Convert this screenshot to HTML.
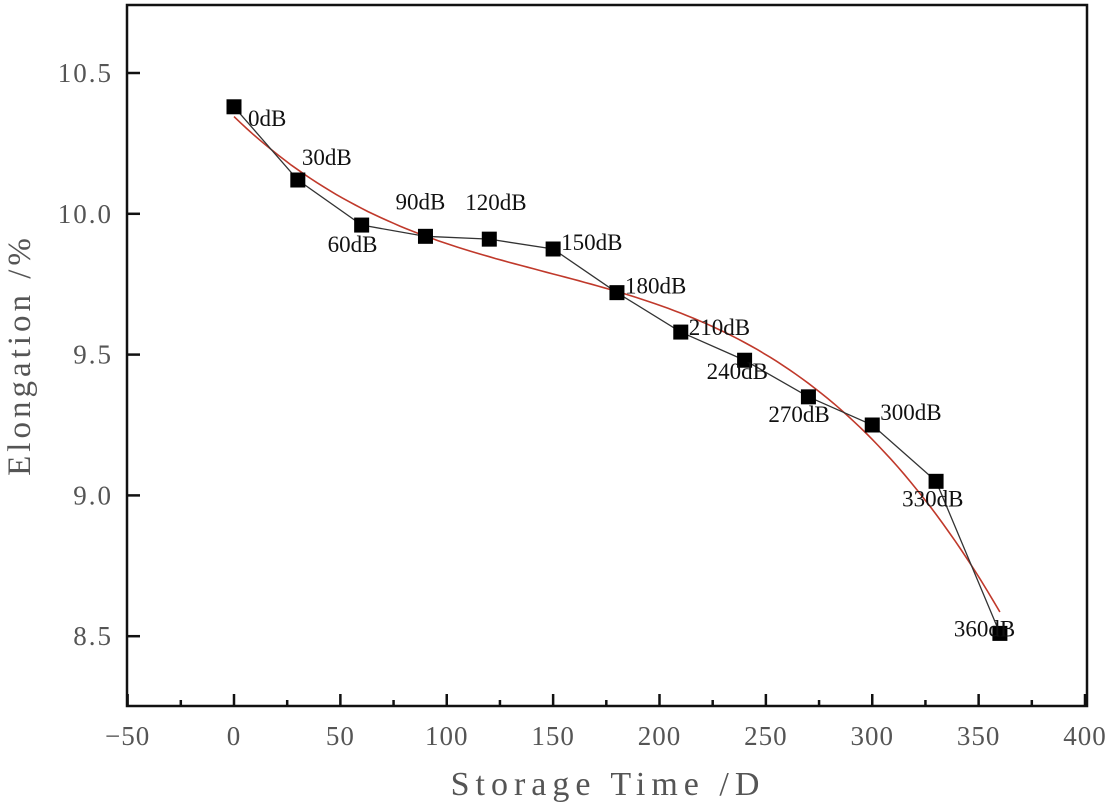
<!DOCTYPE html>
<html><head><meta charset="utf-8"><style>
body{margin:0;background:#fff;width:1112px;height:803px;overflow:hidden}
svg text{font-family:"Liberation Serif","Noto Serif CJK SC",serif}
</style></head><body>
<svg id="chart" width="1112" height="803" xmlns="http://www.w3.org/2000/svg">
<rect x="127" y="5" width="960" height="701" fill="none" stroke="#111" stroke-width="2.5"/>
<text x="608" y="795" font-size="34" fill="#555" text-anchor="middle" letter-spacing="6">Storage Time /D</text>
<text transform="translate(30,355) rotate(-90)" font-size="33" fill="#555" text-anchor="middle" letter-spacing="4">Elongation /%</text>
</svg>
<script>
const days=[0,30,60,90,120,150,180,210,240,270,300,330,360];
const elong=[10.38,10.12,9.96,9.92,9.91,9.875,9.72,9.58,9.48,9.35,9.25,9.05,8.51];
const labels=["0dB","30dB","60dB","90dB","120dB","150dB","180dB","210dB","240dB","270dB","300dB","330dB","360dB"];
const xTicks=[-50,0,50,100,150,200,250,300,350,400];
const yTicks=[8.5,9.0,9.5,10.0,10.5];
const yTickLabels=["8.5","9.0","9.5","10.0","10.5"];
const labelOff=[[14,10],[4,-24],[-34,18],[-30,-36],[-24,-38],[8,-8],[8,-8],[8,-6],[-38,10],[-40,16],[8,-14],[-34,16],[-46,-6]];
const X=v=>234+(v)*(851/400);
const Y=v=>73+(10.5-v)*281.6;
const svg=document.getElementById('chart');
const NS='http://www.w3.org/2000/svg';
function mk(t,a,p){const e=document.createElementNS(NS,t);for(const k in a)e.setAttribute(k,a[k]);(p||svg).appendChild(e);return e;}
xTicks.forEach((t,i)=>{
 const l=mk('line',{x1:X(t),x2:X(t),y1:706,y2:694,stroke:'#111','stroke-width':2.5});
 
 
 if(i<xTicks.length-1){const m=mk('line',{x1:X(t+25),x2:X(t+25),y1:706,y2:700,stroke:'#111','stroke-width':2.5});
 
 }
 const tx=mk('text',{x:X(t),y:745,'font-size':27,fill:'#555','text-anchor':'middle','letter-spacing':1});
 tx.textContent=(t<0?'\u2212'+(-t):t);
 
 
});
yTicks.forEach((t,i)=>{
 const l=mk('line',{x1:127,x2:140,y1:Y(t),y2:Y(t),stroke:'#111','stroke-width':2.5});
 
 
 const tx=mk('text',{x:113,y:Y(t)+9,'font-size':27,fill:'#555','text-anchor':'end','letter-spacing':2});
 tx.textContent=yTickLabels[i];
 
 
});
function fit(xs,ys,deg){const n=deg+1;const A=[];for(let i=0;i<n;i++){A.push(new Array(n+1).fill(0));}
 xs.forEach((x0,k)=>{const x=x0/100;for(let i=0;i<n;i++){for(let j=0;j<n;j++)A[i][j]+=Math.pow(x,i+j);A[i][n]+=ys[k]*Math.pow(x,i);}});
 for(let i=0;i<n;i++){let p=i;for(let r=i+1;r<n;r++)if(Math.abs(A[r][i])>Math.abs(A[p][i]))p=r;[A[i],A[p]]=[A[p],A[i]];
 for(let r=0;r<n;r++){if(r===i)continue;const f=A[r][i]/A[i][i];for(let c=i;c<=n;c++)A[r][c]-=f*A[i][c];}}
 return A.map((r,i)=>r[n]/r[i]);}
const c=fit(days,elong,3);
let d='';for(let x=0;x<=360;x+=3){const u=x/100;const y=c[0]+c[1]*u+c[2]*u*u+c[3]*u*u*u;d+=(x?'L':'M')+X(x).toFixed(1)+','+Y(y).toFixed(1);}
const fl=mk('path',{d:d,fill:'none',stroke:'#c0392b','stroke-width':1.6});


const pl=mk('polyline',{points:days.map((x,i)=>X(x)+','+Y(elong[i])).join(' '),fill:'none',stroke:'#333','stroke-width':1.3});


days.forEach((x,i)=>{
 const r=mk('rect',{x:X(x)-7.5,y:Y(elong[i])-7.5,width:15,height:15,fill:'#000'});
 
 
 const t=mk('text',{x:X(x)+labelOff[i][0],y:Y(elong[i])+labelOff[i][1]+9,'font-size':23,fill:'#111'});
 t.textContent=labels[i];
 
 
});
</script>
</body></html>
